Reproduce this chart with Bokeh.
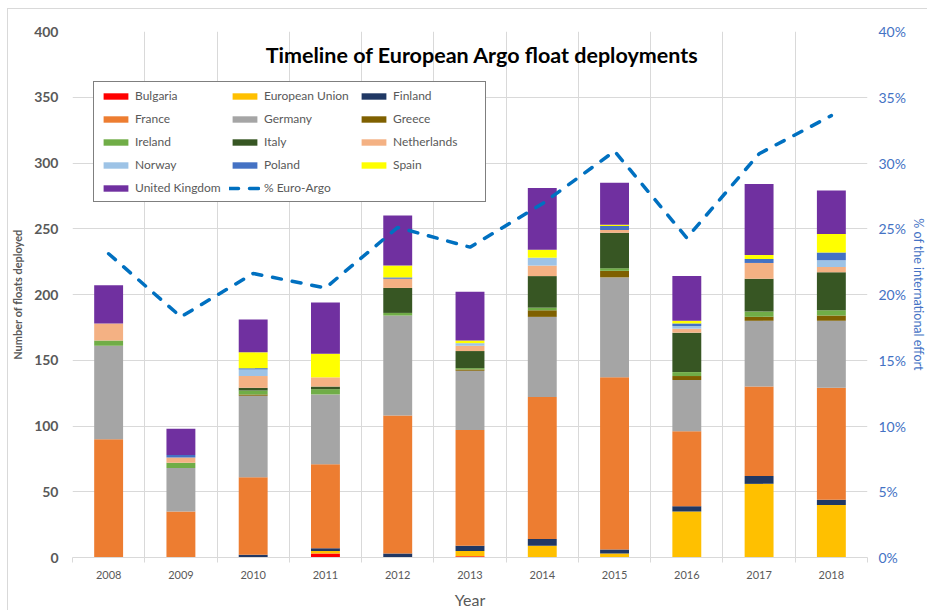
from bokeh.plotting import figure
from bokeh.models import (Range1d, LinearAxis, FixedTicker, NumeralTickFormatter,
                          Legend, LegendItem, Label, ColumnDataSource)
from bokeh.embed import file_html
from bokeh.resources import INLINE

years = ["2008", "2009", "2010", "2011", "2012", "2013", "2014", "2015", "2016", "2017", "2018"]

bulgaria    = [0, 0, 0, 3, 0, 1, 0, 0, 0, 0, 0]
eu          = [0, 0, 0, 2, 0, 4, 9, 3, 35, 56, 40]
finland     = [0, 0, 2, 2, 3, 4, 5, 3, 4, 6, 4]
france      = [90, 35, 59, 64, 105, 88, 108, 131, 57, 68, 85]
germany     = [71, 33, 62, 53, 76, 45, 61, 76, 39, 50, 51]
greece      = [0, 0, 1, 0, 0, 1, 5, 5, 3, 3, 4]
ireland     = [4, 4, 3, 4, 2, 1, 2, 2, 3, 4, 4]
italy       = [0, 0, 2, 2, 19, 13, 24, 27, 30, 25, 29]
netherlands = [13, 4, 9, 7, 7, 4, 8, 2, 3, 12, 4]
norway      = [0, 0, 5, 0, 0, 2, 6, 0, 2, 0, 5]
poland      = [0, 2, 1, 0, 1, 0, 0, 3, 2, 3, 6]
spain       = [0, 0, 12, 18, 9, 2, 6, 1, 2, 3, 14]
uk          = [29, 20, 25, 39, 38, 37, 47, 32, 34, 54, 33]

euro_argo_pct = [23.1, 18.3, 21.6, 20.5, 25.1, 23.6, 26.9, 30.9, 24.3, 30.7, 33.6]

countries = ["Bulgaria", "European Union", "Finland", "France", "Germany", "Greece",
             "Ireland", "Italy", "Netherlands", "Norway", "Poland", "Spain", "United Kingdom"]
series = [bulgaria, eu, finland, france, germany, greece, ireland, italy,
          netherlands, norway, poland, spain, uk]
colors = ["#FF0000", "#FFC000", "#203864", "#ED7D31", "#A5A5A5", "#7F6000",
          "#70AD47", "#375623", "#F4B183", "#9DC3E6", "#4472C4", "#FFFF00", "#7030A0"]

left_ticks = [0, 50, 100, 150, 200, 250, 300, 350, 400]
right_ticks = [0, 0.05, 0.10, 0.15, 0.20, 0.25, 0.30, 0.35, 0.40]

FONT = "Lato"
GRAY = "#595959"
GRID = "#D9D9D9"

n = len(years)
xs = [i + 0.5 for i in range(n)]
data = {"x": xs, "pct": [v / 100 for v in euro_argo_pct]}
for c, vals in zip(countries, series):
    data[c] = vals
src = ColumnDataSource(data)

p = figure(width=920, height=602, x_range=Range1d(0, n), y_range=Range1d(0, 400),
           output_backend="svg", toolbar_location=None,
           min_border_left=64, min_border_right=61, min_border_top=22, min_border_bottom=54)
p.styles = {"border-left": "1px solid #D9D9D9", "border-top": "1px solid #D9D9D9",
            "margin-left": "7px", "margin-top": "8px"}
p.outline_line_color = None
p.background_fill_color = "white"
p.border_fill_color = "white"
p.extra_y_ranges = {"pct": Range1d(0, 0.40)}

bars = p.vbar_stack(countries, x="x", width=0.4, fill_color=colors, line_color=None, source=src)
line = p.line(x="x", y="pct", y_range_name="pct", source=src, line_color="#0070C0",
              line_width=3.5, line_dash="9 11", line_cap="round")

# x axis
xa = p.xaxis[0]
xa.ticker = FixedTicker(ticks=xs, minor_ticks=list(range(n + 1)))
xa.major_label_overrides = {x: y for x, y in zip(xs, years)}
xa.major_tick_line_color = None
xa.major_tick_in = 0
xa.major_tick_out = 0
xa.minor_tick_line_color = GRID
xa.minor_tick_in = 0
xa.minor_tick_out = 5
xa.axis_line_color = GRID
xa.major_label_text_font = FONT
xa.major_label_text_font_size = "11px"
xa.major_label_text_color = GRAY
xa.major_label_standoff = 8
xa.axis_label = "Year"
xa.axis_label_text_font = FONT
xa.axis_label_text_font_size = "16px"
xa.axis_label_text_font_style = "normal"
xa.axis_label_text_color = GRAY
xa.axis_label_standoff = 8

# left axis
ya = p.yaxis[0]
ya.ticker = FixedTicker(ticks=left_ticks)
ya.axis_line_color = None
ya.major_tick_line_color = None
ya.major_tick_in = 0
ya.major_tick_out = 0
ya.minor_tick_line_color = None
ya.minor_tick_out = 0
ya.major_label_text_font = FONT
ya.major_label_text_font_size = "14px"
ya.major_label_text_font_style = "bold"
ya.major_label_text_color = GRAY
ya.major_label_standoff = 14
ya.axis_label = "Number of floats deployed"
ya.axis_label_text_font = FONT
ya.axis_label_text_font_size = "11px"
ya.axis_label_text_font_style = "bold"
ya.axis_label_text_color = GRAY
ya.axis_label_standoff = 7

# right axis
ra = LinearAxis(y_range_name="pct", ticker=FixedTicker(ticks=right_ticks),
                formatter=NumeralTickFormatter(format="0%"),
                axis_label="% of the international effort")
ra.axis_line_color = None
ra.major_tick_line_color = None
ra.major_tick_in = 0
ra.major_tick_out = 0
ra.minor_tick_line_color = None
ra.minor_tick_out = 0
ra.major_label_text_font = FONT
ra.major_label_text_font_size = "14px"
ra.major_label_text_color = "#4472C4"
ra.major_label_standoff = 11
ra.axis_label_text_font = FONT
ra.axis_label_text_font_size = "12.5px"
ra.axis_label_text_font_style = "normal"
ra.axis_label_text_color = "#4472C4"
ra.axis_label_standoff = 2
p.add_layout(ra, "right")

# grids
p.xgrid.ticker = FixedTicker(ticks=list(range(n + 1)))
p.xgrid.grid_line_color = GRID
p.ygrid.grid_line_color = GRID

# title inside plot
title = Label(x=5.67, y=382, text="Timeline of European Argo float deployments",
              text_font=FONT, text_font_size="21.5px", text_font_style="bold",
              text_color="black", text_align="center", text_baseline="middle")
p.add_layout(title)

items = [LegendItem(label=c, renderers=[r]) for c, r in zip(countries, bars)]
items.append(LegendItem(label="% Euro-Argo", renderers=[line]))
legend = Legend(items=items, location=(21, 355), orientation="horizontal", ncols=3)
legend.glyph_width = 31
legend.glyph_height = 8
legend.label_height = 14
legend.label_width = 86
legend.label_standoff = 4
legend.spacing = 8
legend.padding = 6
legend.margin = 0
legend.label_text_font = FONT
legend.label_text_font_size = "12px"
legend.label_text_color = GRAY
legend.border_line_color = "black"
legend.border_line_width = 1
legend.background_fill_alpha = 1
p.add_layout(legend)

open("out.html", "w").write(file_html(p, INLINE))
